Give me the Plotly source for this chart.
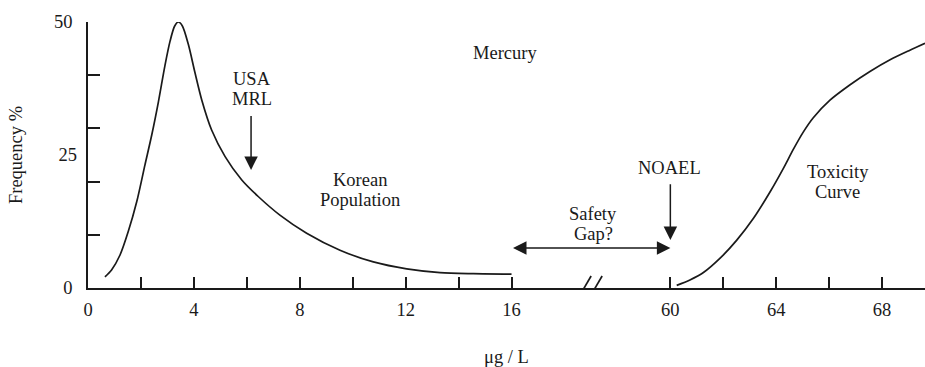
import plotly.graph_objects as go

# ---------------- data ----------------
# Korean population distribution of blood mercury (µg/L vs frequency %)
pop_x = [0.64, 0.89, 1.21, 1.52, 1.84, 2.15, 2.41, 2.66, 2.91, 3.10, 3.27, 3.41,
         3.56, 3.79, 4.04, 4.30, 4.67, 5.18, 5.81, 6.43, 7.25, 8.26, 9.52, 10.78,
         12.04, 13.30, 14.56, 16.0]
pop_y = [2.1, 3.4, 6.2, 10.6, 16.2, 23.1, 28.8, 35.0, 41.9, 46.4, 49.2, 50.0,
         49.3, 45.8, 40.5, 35.3, 29.7, 24.7, 20.3, 17.2, 13.7, 10.3, 7.1, 4.9,
         3.6, 2.9, 2.7, 2.6]

# Toxicity curve
tox_x = [60.24, 60.74, 61.25, 61.88, 62.51, 63.14, 63.77, 64.27, 64.65, 65.02,
         65.40, 66.03, 66.79, 67.54, 68.30, 69.05, 69.62]
tox_y = [0.5, 1.5, 2.9, 5.6, 9.0, 13.1, 18.1, 22.5, 26.1, 29.3,
         32.0, 35.3, 38.2, 40.7, 42.9, 44.7, 46.0]

# Axis ticks (real values) and labels
x_tick_values = [0, 2, 4, 6, 8, 10, 12, 14, 16, 60, 62, 64, 66, 68]
x_tick_labels = ["0", "", "4", "", "8", "", "12", "", "16", "60", "", "64", "", "68"]
y_tick_values = [0, 10, 20, 30, 40, 50]
y_tick_labels = ["0", "", "", "", "", "50"]
y_mid_label_value = [25]
y_mid_label_text = ["25"]

usa_mrl = 6.16
noael = 60
x_max_real = 69.62

# ---------------- broken axis mapping ----------------
BREAK_LOW, BREAK_HIGH, GAP = 16, 60, 6  # 16 .. 60 compressed into 6 units


def bx(v):
    return v if v <= BREAK_LOW else v - BREAK_HIGH + BREAK_LOW + GAP


INK = "#1a1a1a"
FONT = dict(family="Liberation Serif, Times New Roman, serif", size=18.5, color=INK)

fig = go.Figure()
fig.add_trace(go.Scatter(x=[bx(v) for v in pop_x], y=pop_y, mode="lines",
                         line=dict(color=INK, width=1.7, shape="spline", smoothing=0.8),
                         cliponaxis=False, showlegend=False, hoverinfo="skip"))
fig.add_trace(go.Scatter(x=[bx(v) for v in tox_x], y=tox_y, mode="lines",
                         line=dict(color=INK, width=1.7, shape="spline", smoothing=0.8),
                         cliponaxis=False, showlegend=False, hoverinfo="skip"))
# invisible trace for the secondary (label-only) y axis
fig.add_trace(go.Scatter(x=[0], y=[0], yaxis="y2", mode="markers",
                         marker=dict(opacity=0), showlegend=False, hoverinfo="skip"))

annotations = []
# text labels (each line placed separately to keep tight line spacing)
LINE_GAP = 20  # px
labels = [
    (["Mercury"], 15.75, 44.2),
    (["USA", "MRL"], usa_mrl + 0.04, 37.4),
    (["Korean", "Population"], 10.28, 18.4),
    (["Safety", "Gap?"], 19.08, 12.0),
    (["NOAEL"], bx(noael) - 0.05, 22.6),
    (["Toxicity", "Curve"], 28.33, 19.9),
]
for lines, x, y in labels:
    n = len(lines)
    for i, txt in enumerate(lines):
        shift = ((n - 1) / 2 - i) * LINE_GAP
        annotations.append(dict(text=txt, x=x, y=y, xref="x", yref="y", showarrow=False,
                                font=FONT, xanchor="center", yanchor="middle",
                                yshift=shift))

arrow_style = dict(showarrow=True, arrowhead=2, arrowsize=1.8, arrowwidth=1.5,
                   arrowcolor=INK, text="", xref="x", yref="y", axref="x", ayref="y",
                   standoff=0, startstandoff=0)
# USA MRL arrow
annotations.append(dict(x=usa_mrl, y=22.2, ax=usa_mrl, ay=32.6, **arrow_style))
# NOAEL arrow
annotations.append(dict(x=bx(noael), y=9.0, ax=bx(noael), ay=19.8, **arrow_style))
# Safety gap double arrow
annotations.append(dict(x=bx(noael), y=7.5, ax=BREAK_LOW, ay=7.5, arrowside="end+start",
                        startarrowhead=2, startarrowsize=1.8, **arrow_style))

# axis break marks "//"
break_pos = BREAK_LOW + 2.95
shapes = []
for dx in (-12.5, -1.5):
    shapes.append(dict(type="line", xref="x", yref="y", xsizemode="pixel", ysizemode="pixel",
                       xanchor=break_pos, yanchor=0, x0=dx, x1=dx + 14, y0=-12, y1=12,
                       line=dict(color=INK, width=1.7)))

fig.update_layout(
    width=925, height=367,
    margin=dict(l=88, r=0, t=22, b=79),
    paper_bgcolor="white", plot_bgcolor="white",
    font=FONT,
    annotations=annotations,
    shapes=shapes,
    xaxis=dict(
        range=[0, bx(x_max_real)],
        showgrid=False, zeroline=False,
        showline=True, linecolor=INK, linewidth=1.8,
        ticks="inside", ticklen=11, tickwidth=1.6, tickcolor=INK,
        tickvals=[bx(v) for v in x_tick_values], ticktext=x_tick_labels,
        tickfont=FONT, ticklabelstandoff=4,
        title=dict(text="μg / L", font=FONT, standoff=35),
    ),
    yaxis=dict(
        range=[0, 50],
        showgrid=False, zeroline=False,
        showline=True, linecolor=INK, linewidth=1.8,
        ticks="inside", ticklen=12, tickwidth=1.6, tickcolor=INK,
        tickvals=y_tick_values, ticktext=y_tick_labels,
        tickfont=FONT, ticklabelstandoff=10,
        title=dict(text="Frequency %", font=FONT, standoff=26),
    ),
    yaxis2=dict(
        range=[0, 50], overlaying="y", side="left",
        showgrid=False, zeroline=False, showline=False, ticks="",
        tickvals=y_mid_label_value, ticktext=y_mid_label_text, tickfont=FONT,
        ticklabelstandoff=10,
    ),
)

fig.write_html("out.html", config={"displayModeBar": False},
               post_script="document.body.style.margin='0';")
